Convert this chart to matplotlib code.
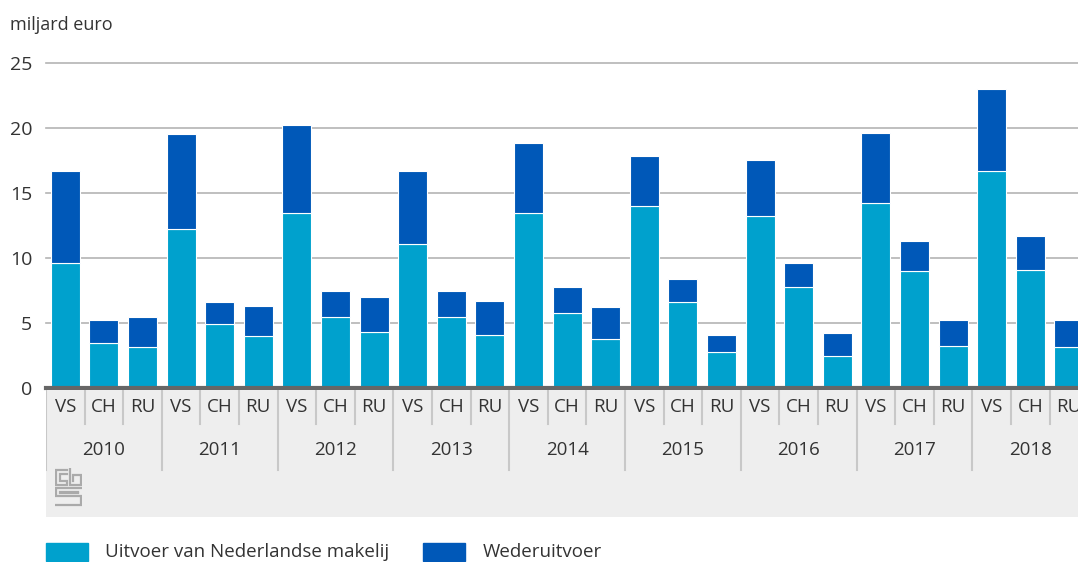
import numpy as np
import matplotlib
matplotlib.use("Agg")
import matplotlib.pyplot as plt
from matplotlib.patches import Rectangle

# data (miljard euro)
years = ["2010", "2011", "2012", "2013", "2014", "2015", "2016", "2017", "2018"]
countries = ["VS", "CH", "RU"]
makelij = [9.6, 3.5, 3.15,
           12.2, 4.9, 4.0,
           13.5, 5.5, 4.3,
           11.1, 5.5, 4.1,
           13.5, 5.8, 3.8,
           14.0, 6.6, 2.8,
           13.2, 7.8, 2.5,
           14.2, 9.0, 3.2,
           16.7, 9.1, 3.15]
totaal = [16.7, 5.2, 5.5,
          19.5, 6.6, 6.3,
          20.2, 7.5, 7.0,
          16.7, 7.5, 6.7,
          18.85, 7.8, 6.2,
          17.85, 8.4, 4.1,
          17.5, 9.6, 4.2,
          19.6, 11.3, 5.2,
          23.0, 11.7, 5.2]
wederuitvoer = [t - m for t, m in zip(totaal, makelij)]
yticks = [0, 5, 10, 15, 20, 25]

C_LIGHT = "#00a1cd"
C_DARK = "#0058b8"
TXT = "#333333"
plt.rcParams["font.family"] = ["Open Sans", "DejaVu Sans"]

W, H = 1078, 562
fig = plt.figure(figsize=(W / 100, H / 100), dpi=100)


def px(x0, y0, x1, y1):
    # pixel box (top-left origin) -> figure fraction rect
    return [x0 / W, 1 - y1 / H, (x1 - x0) / W, (y1 - y0) / H]


n = len(makelij)
x = np.arange(n)
xlim = (-0.5, n - 0.5)
right_px = 46 + 38.6 * n

ax = fig.add_axes(px(46, 63, right_px, 388))
ax.bar(x, makelij, width=0.75, color=C_LIGHT, edgecolor="white", lw=0.8, zorder=2)
ax.bar(x, wederuitvoer, bottom=makelij, width=0.75, color=C_DARK,
       edgecolor="white", lw=0.8, zorder=2)
ax.set_xlim(*xlim)
ax.set_ylim(0, 25)
ax.set_yticks(yticks)
ax.set_yticklabels([str(t) for t in yticks], fontsize=14, color=TXT)
ax.tick_params(axis="y", length=0, pad=10)
ax.set_xticks([])
for y in yticks[1:]:
    ax.axhline(y, color="#b4b4b4", lw=1.2, zorder=1, clip_on=False)
for s in ax.spines.values():
    s.set_visible(False)
ax.axhline(0, color="#666666", lw=3, zorder=3, clip_on=False)

fig.text(10 / W, 1 - 25 / H, "miljard euro", fontsize=13, color=TXT, va="center")

# grey category panel below the axis
lo = fig.add_axes(px(46, 390, right_px, 517))
lo.set_facecolor("#eeeeee")
lo.set_xlim(*xlim)
lo.set_ylim(127, 0)
lo.set_xticks([])
lo.set_yticks([])
for s in lo.spines.values():
    s.set_visible(False)
for i in range(n):
    lo.text(i, 17, countries[i % 3], ha="center", va="center", fontsize=13.5, color=TXT)
    if i % 3 != 0:
        lo.plot([i - 0.5, i - 0.5], [0, 34], color="#c8c8c8", lw=1.5)
for j, yr in enumerate(years):
    lo.text(3 * j + 1, 60, yr, ha="center", va="center", fontsize=13.5, color=TXT)
    lo.plot([3 * j - 0.5, 3 * j - 0.5], [0, 80], color="#c8c8c8", lw=1.5)

# cbs logo (rough outline)
lg = fig.add_axes(px(55, 468, 82, 507))
lg.set_xlim(0, 24)
lg.set_ylim(35, 0)
lg.axis("off")
kw = dict(color="#aaaaaa", lw=1.6, solid_joinstyle="miter")
lg.plot([11, 1, 1, 11, 11, 4, 4, 11], [2, 2, 15, 15, 12, 12, 5, 5], **kw)
lg.plot([13, 13, 23, 23, 16, 16], [0, 15, 15, 6, 6, 12], **kw)
lg.plot([23, 1, 1, 23, 23, 1], [18, 18, 25.5, 25.5, 33, 33], **kw)
lg.plot([20, 4, 4, 20], [21.5, 21.5, 22, 22], **kw)

# legend
fig.add_artist(Rectangle((46 / W, 1 - 561 / H), 42 / W, 18 / H,
                         transform=fig.transFigure, color=C_LIGHT))
fig.text(105 / W, 1 - 552 / H, "Uitvoer van Nederlandse makelij",
         fontsize=13.5, color=TXT, va="center")
fig.add_artist(Rectangle((423 / W, 1 - 561 / H), 42 / W, 18 / H,
                         transform=fig.transFigure, color=C_DARK))
fig.text(483 / W, 1 - 552 / H, "Wederuitvoer", fontsize=13.5, color=TXT, va="center")

fig.savefig("out.png", dpi=100)
